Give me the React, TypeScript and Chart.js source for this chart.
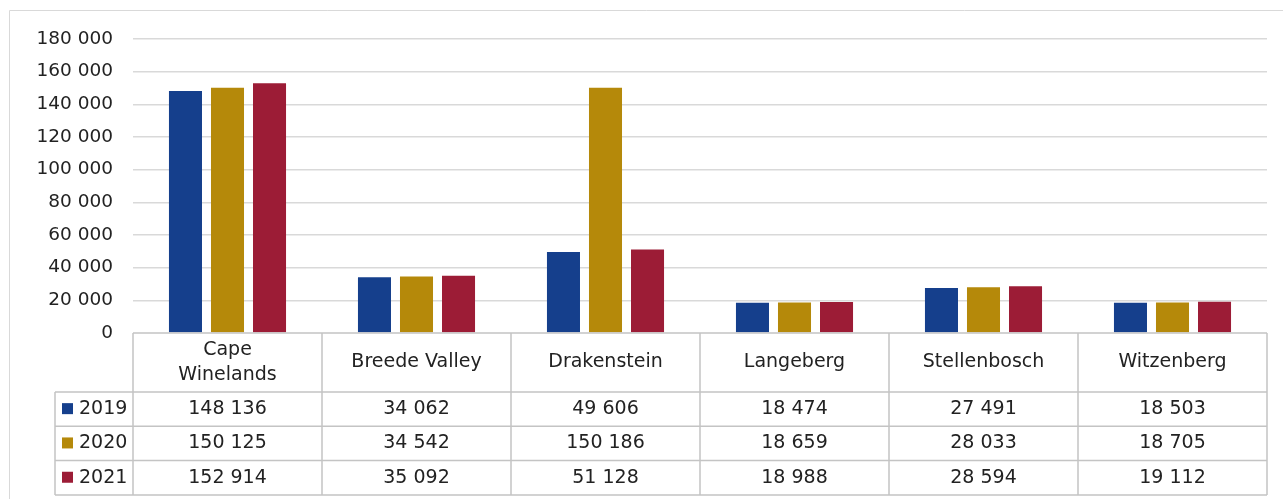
import React, { useEffect, useRef } from "react";
import { Chart, registerables } from "chart.js";

Chart.register(...registerables);

const categories: (string | string[])[] = [
  ["Cape", "Winelands"],
  "Breede Valley",
  "Drakenstein",
  "Langeberg",
  "Stellenbosch",
  "Witzenberg",
];
const seriesNames = ["2019", "2020", "2021"];
const values2019 = [148136, 34062, 49606, 18474, 27491, 18503];
const values2020 = [150125, 34542, 150186, 18659, 28033, 18705];
const values2021 = [152914, 35092, 51128, 18988, 28594, 19112];
const seriesColors = ["#153f8c", "#b5890a", "#9c1c36"];
const yTicks = [0, 20000, 40000, 60000, 80000, 100000, 120000, 140000, 160000, 180000];

const FONT = '"DejaVu Sans", sans-serif';
const TEXT = "#222222";
const LINE = "#c4c4c4";

const fmt = (v: number) => String(v).replace(/\B(?=(\d{3})+(?!\d))/g, " ");

const tablePlugin = {
  id: "dataTable",
  beforeDraw(chart: any) {
    const ctx = chart.ctx;
    ctx.save();
    ctx.strokeStyle = "#d9d9d9";
    ctx.lineWidth = 1;
    ctx.beginPath();
    ctx.moveTo(9.5, chart.height);
    ctx.lineTo(9.5, 10.5);
    ctx.lineTo(chart.width, 10.5);
    ctx.stroke();
    ctx.restore();
  },
  afterDraw(chart: any) {
    const ctx = chart.ctx;
    const area = chart.chartArea;
    const n = categories.length;
    const colW = (area.right - area.left) / n;
    const top = area.bottom;
    const headerBottom = top + 59;
    const rowH = 34.3;
    const legendLeft = 55;
    const rowsBottom = headerBottom + rowH * seriesNames.length;
    const datasets = chart.data.datasets;

    ctx.save();
    ctx.strokeStyle = LINE;
    ctx.lineWidth = 1.5;
    ctx.beginPath();
    ctx.moveTo(area.left, top);
    ctx.lineTo(area.right, top);
    for (let r = 0; r <= seriesNames.length; r++) {
      const y = headerBottom + rowH * r;
      ctx.moveTo(legendLeft, y);
      ctx.lineTo(area.right, y);
    }
    for (let i = 0; i <= n; i++) {
      const x = area.left + colW * i;
      ctx.moveTo(x, top);
      ctx.lineTo(x, rowsBottom);
    }
    ctx.moveTo(legendLeft, headerBottom);
    ctx.lineTo(legendLeft, rowsBottom);
    ctx.stroke();

    ctx.fillStyle = TEXT;
    ctx.font = `19px ${FONT}`;
    ctx.textAlign = "center";
    ctx.textBaseline = "middle";
    const xScale = chart.scales.x;
    for (let i = 0; i < n; i++) {
      const cx = xScale.getPixelForValue(i);
      const lab = categories[i];
      const lines = Array.isArray(lab) ? lab : [lab];
      const lh = 25;
      const cy = (top + headerBottom) / 2;
      lines.forEach((t, k) => {
        ctx.fillText(t, cx, cy + (k - (lines.length - 1) / 2) * lh);
      });
    }
    for (let r = 0; r < datasets.length; r++) {
      const cy = headerBottom + rowH * r + rowH / 2;
      ctx.fillStyle = datasets[r].backgroundColor;
      ctx.fillRect(legendLeft + 7, cy - 6, 11, 11);
      ctx.fillStyle = TEXT;
      ctx.textAlign = "left";
      ctx.fillText(seriesNames[r], legendLeft + 24, cy);
      ctx.textAlign = "center";
      const data = datasets[r].data as number[];
      for (let i = 0; i < n; i++) {
        ctx.fillText(fmt(data[i]), xScale.getPixelForValue(i), cy);
      }
    }
    ctx.restore();
  },
};

export default function App() {
  const ref = useRef<HTMLCanvasElement | null>(null);
  useEffect(() => {
    if (!ref.current) return;
    const allSeries = [values2019, values2020, values2021];
    const chart = new Chart(ref.current, {
      type: "bar",
      data: {
        labels: categories as any,
        datasets: allSeries.map((d, i) => ({
          label: seriesNames[i],
          data: d,
          backgroundColor: seriesColors[i],
          categoryPercentage: 0.667,
          barPercentage: 0.786,
        })),
      },
      options: {
        animation: false,
        responsive: true,
        maintainAspectRatio: false,
        layout: { padding: { left: 0, top: 39, right: 16, bottom: 166 } },
        plugins: { legend: { display: false }, tooltip: { enabled: false } },
        scales: {
          x: { display: false },
          y: {
            min: 0,
            max: 180000,
            afterFit: (axis: any) => {
              axis.width = 133;
            },
            afterBuildTicks: (axis: any) => {
              axis.ticks = yTicks.map((v) => ({ value: v }));
            },
            border: { display: false },
            grid: {
              color: (c: any) => (c.tick && c.tick.value === 0 ? "rgba(0,0,0,0)" : "#d9d9d9"),
              lineWidth: 1.5,
              drawTicks: false,
            },
            ticks: {
              padding: 20,
              color: TEXT,
              font: { family: FONT, size: 18.5 },
              callback: (v: any) => fmt(Number(v)),
            },
          },
        },
      },
      plugins: [tablePlugin],
    });
    return () => chart.destroy();
  }, []);
  return (
    <div style={{ position: "fixed", left: 0, top: 0, width: 1283, height: 499, background: "#fff" }}>
      <canvas ref={ref} />
    </div>
  );
}
